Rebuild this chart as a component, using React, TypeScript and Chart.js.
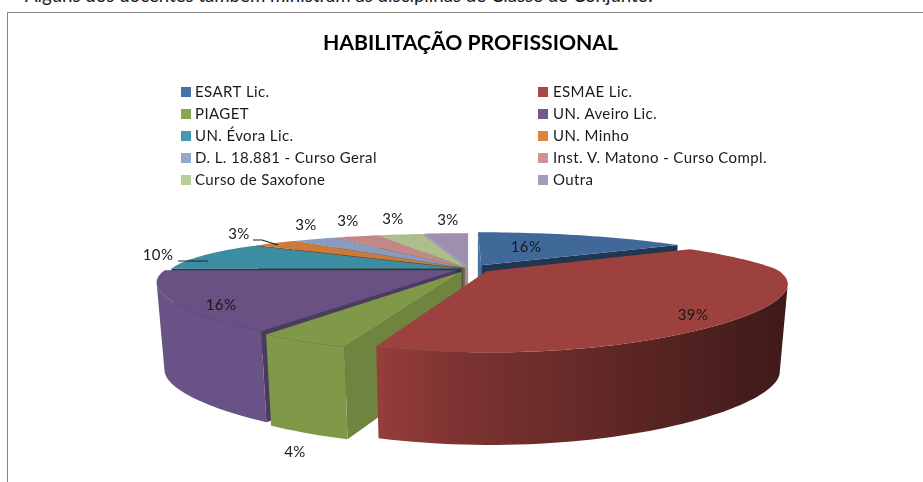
import React, { useEffect, useRef } from "react";
import { Chart, registerables } from "chart.js";

Chart.register(...registerables);

const chartTitle = "HABILITAÇÃO PROFISSIONAL";
const caption = "Alguns dos docentes também ministram as disciplinas de Classe de Conjunto.";
const categories = [
  "ESART Lic.",
  "ESMAE Lic.",
  "PIAGET",
  "UN. Aveiro Lic.",
  "UN. Évora Lic.",
  "UN. Minho",
  "D. L. 18.881 - Curso Geral",
  "Inst. V. Matono - Curso Compl.",
  "Curso de Saxofone",
  "Outra",
];
const percentages = [16, 39, 4, 16, 10, 3, 3, 3, 3, 3];
const legendColors = [
  "#4572a7", "#aa4643", "#89a54e", "#71588f", "#4198af",
  "#db843d", "#93a9cf", "#d19392", "#b9cd96", "#a99bbd",
];
const explode = [0.09, 0.075, 0.06, 0.05, 0.03, 0.03, 0.03, 0.03, 0.03, 0.04];

// Presentation settings
const PROJ = { cx: 469, cy: 269, A: 290, B: 48, kx: 0.22, kxBackRight: 0.38, ky: 0.38, depth: 86, bx: 0.975, by: 1.08 };
const drawOrder = [9, 8, 7, 6, 5, 4, 0, 3, 2, 1];
const labelSpots = [
  [526, 247], [693, 315], [295, 452], [221, 305], [158, 255],
  [239, 234], [306, 225], [348, 221], [393, 219], [448, 220],
];
const FONT = "Lato, sans-serif";

function parseHex(c: string) {
  return [1, 3, 5].map((i) => parseInt(c.slice(i, i + 2), 16));
}
function shade(c: string, f: number) {
  const [r, g, b] = parseHex(c);
  return `rgb(${Math.round(r * f)},${Math.round(g * f)},${Math.round(b * f)})`;
}
function project(u: number, v: number, bottom: boolean) {
  const { cx, cy, A, B, kx, kxBackRight, ky, depth, bx, by } = PROJ;
  const wx = 1 - (v < 0 && u > 0 ? kxBackRight : kx) * v;
  const wy = 1 - ky * v;
  if (!bottom) return [cx + (A * u) / wx, cy + (B * v) / wy];
  return [cx + (bx * A * u) / wx, cy + depth + (by * B * v) / wy];
}
function signedArea(p: number[][]) {
  let s = 0;
  for (let i = 0; i < p.length; i++) {
    const a = p[i];
    const b = p[(i + 1) % p.length];
    s += a[0] * b[1] - b[0] * a[1];
  }
  return s;
}
function poly(ctx: CanvasRenderingContext2D, p: number[][], color: any) {
  ctx.beginPath();
  p.forEach((q, i) => (i ? ctx.lineTo(q[0], q[1]) : ctx.moveTo(q[0], q[1])));
  ctx.closePath();
  ctx.fillStyle = color;
  ctx.fill();
}
function wallShade(u: number) {
  const f = u > 0 ? 0.72 - 0.32 * u : 0.72 - 0.5 * u;
  return Math.min(0.93, f);
}

const pie3d = {
  id: "pie3d",
  beforeDatasetsDraw(chart: any) {
    const ctx: CanvasRenderingContext2D = chart.ctx;
    const meta = chart.getDatasetMeta(0);
    const colors = chart.data.datasets[0].backgroundColor;
    const offs = chart.data.datasets[0].explode;
    ctx.save();
    for (const i of drawOrder) {
      const el = meta.data[i];
      const a0 = el.startAngle + Math.PI / 2;
      const a1 = el.endAngle + Math.PI / 2;
      const mid = (a0 + a1) / 2;
      const ox = offs[i] * Math.sin(mid);
      const oy = -offs[i] * Math.cos(mid);
      const steps = Math.max(3, Math.ceil((a1 - a0) / 0.03));
      const plane: number[][] = [];
      for (let s = 0; s <= steps; s++) {
        const t = a0 + ((a1 - a0) * s) / steps;
        plane.push([ox + Math.sin(t), oy - Math.cos(t)]);
      }
      const apex = [ox, oy];
      const top = (q: number[]) => project(q[0], q[1], false);
      const bot = (q: number[]) => project(q[0], q[1], true);
      // radial cut walls
      const cut = (a: number[], b: number[]) => {
        const quad = [top(a), top(b), bot(b), bot(a)];
        if (signedArea(quad) < 0) {
          const dx = b[0] - a[0];
          const dy = b[1] - a[1];
          const len = Math.hypot(dx, dy) || 1;
          const ny = Math.abs(dx / len);
          poly(ctx, quad, shade(colors[i], Math.max(0.42, 1 - 0.62 * ny)));
        }
      };
      cut(apex, plane[0]);
      cut(plane[plane.length - 1], apex);
      // outer wall: one polygon per visible run, with a horizontal gradient
      let run: number[][] = [];
      const flush = () => {
        if (run.length < 2) { run = []; return; }
        const tops = run.map(top);
        const bots = run.map(bot);
        const xs = tops.map((q) => q[0]).concat(bots.map((q) => q[0]));
        const x0 = Math.min(...xs);
        const x1 = Math.max(...xs) + 0.01;
        const g = ctx.createLinearGradient(x0, 0, x1, 0);
        for (let n = 0; n <= 12; n++) {
          const x = x0 + ((x1 - x0) * n) / 12;
          g.addColorStop(n / 12, shade(colors[i], wallShade((x - PROJ.cx) / PROJ.A)));
        }
        poly(ctx, [...tops, ...bots.reverse()], g);
        run = [];
      };
      for (let s = 0; s < steps; s++) {
        const quad = [top(plane[s]), top(plane[s + 1]), bot(plane[s + 1]), bot(plane[s])];
        if (signedArea(quad) < 0) {
          if (!run.length) run.push(plane[s]);
          run.push(plane[s + 1]);
        } else flush();
      }
      flush();
      // top face
      const c = shade(colors[i], 0.925);
      poly(ctx, [top(apex), ...plane.map(top)], c);
    }
    ctx.restore();
    return false;
  },
  afterDraw(chart: any) {
    const ctx: any = chart.ctx;
    ctx.save();
    // legend
    const rows = [92, 114, 136, 158, 180];
    const swatchX = [181, 538];
    const textX = [195, 553];
    ctx.font = `15px ${FONT}`;
    ctx.letterSpacing = "0.4px";
    ctx.textBaseline = "middle";
    ctx.textAlign = "left";
    chart.data.labels.forEach((label: string, i: number) => {
      const c = i % 2;
      const y = rows[Math.floor(i / 2)];
      ctx.fillStyle = legendColors[i];
      ctx.fillRect(swatchX[c], y - 5, 10, 10);
      ctx.fillStyle = "#1a1a1a";
      ctx.fillText(label, textX[c], y);
    });
    // value labels
    ctx.textAlign = "center";
    chart.data.datasets[0].data.forEach((val: number, i: number) => {
      ctx.fillText(`${val}%`, labelSpots[i][0], labelSpots[i][1]);
    });
    // leader lines
    ctx.strokeStyle = "#222222";
    ctx.lineWidth = 1.2;
    ctx.beginPath();
    ctx.moveTo(178, 261);
    ctx.lineTo(208, 261);
    ctx.moveTo(253, 240);
    ctx.lineTo(262, 240);
    ctx.lineTo(278, 245);
    ctx.stroke();
    ctx.restore();
  },
};

export default function App() {
  const ref = useRef<HTMLCanvasElement>(null);
  useEffect(() => {
    document.body.style.margin = "0";
    document.body.style.overflow = "hidden";
    const chart = new Chart(ref.current!, {
      type: "pie",
      data: {
        labels: categories,
        datasets: [
          {
            data: percentages,
            backgroundColor: legendColors,
            explode,
          } as any,
        ],
      },
      options: {
        responsive: false,
        animation: false,
        layout: { padding: { left: 18, top: 30 } },
        plugins: {
          legend: { display: false },
          tooltip: { enabled: false },
          title: {
            display: true,
            text: chartTitle,
            fullSize: false,
            color: "#000000",
            font: { family: FONT, size: 21.2, weight: "bold" },
            padding: { top: 0, bottom: 0 },
          },
        },
      } as any,
      plugins: [pie3d],
    });
    return () => chart.destroy();
  }, []);
  return (
    <div style={{ position: "fixed", left: 0, top: 0, width: 923, height: 482, overflow: "hidden", background: "#fff" }}>
      <div style={{ position: "absolute", left: 25, top: -16, font: `18.65px ${FONT}`, color: "#1a1a1a", whiteSpace: "nowrap" }}>
        {caption}
      </div>
      <canvas ref={ref} width={923} height={482} style={{ position: "absolute", left: 0, top: 0 }} />
      <div style={{ position: "absolute", left: 7, top: 12, width: 1000, height: 600, borderLeft: "1px solid #868686", borderTop: "1px solid #868686", pointerEvents: "none" }} />
    </div>
  );
}
